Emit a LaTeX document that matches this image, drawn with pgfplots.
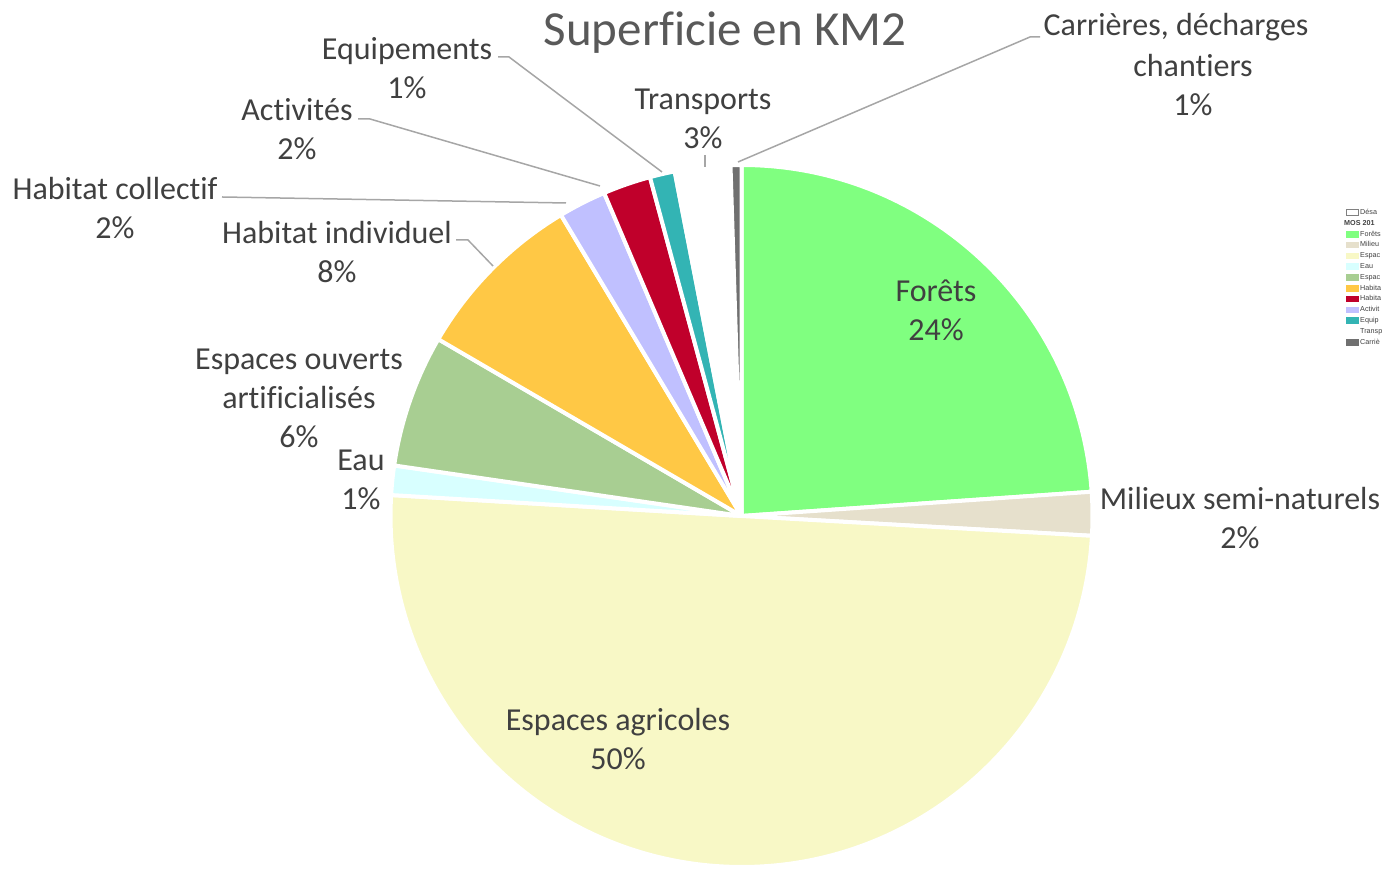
\documentclass[border=0pt]{standalone}
\usepackage{pgfplots}
\pgfplotsset{compat=1.18}
\usepackage{pgfplotstable}
\usepackage{fontspec}
\setmainfont{Carlito}[Ligatures={NoCommon}]
\newfontfamily\legfont{Liberation Sans}
\newcommand\nl{\kern0pt }% breaks the ti / fi ligatures

\definecolor{cFor}{HTML}{80FF80}
\definecolor{cMil}{HTML}{E6E0CC}
\definecolor{cAgr}{HTML}{F8F8C6}
\definecolor{cEau}{HTML}{D8FFFF}
\definecolor{cOuv}{HTML}{A8CE92}
\definecolor{cHin}{HTML}{FFC845}
\definecolor{cHco}{HTML}{C0C0FF}
\definecolor{cAct}{HTML}{C0002B}
\definecolor{cEqu}{HTML}{33B4B4}
\definecolor{cTra}{HTML}{FFFFFF}
\definecolor{cCar}{HTML}{707070}
\definecolor{txt}{HTML}{404040}
\definecolor{ttl}{HTML}{595959}
\definecolor{lead}{HTML}{A6A6A6}

% parts in percent, clockwise from 12 o'clock
\pgfplotstableread[col sep=comma]{
name,value,color
Forets,23.9,cFor
Milieux,2.0,cMil
Agricoles,50.05,cAgr
Eau,1.35,cEau
Ouverts,6.1,cOuv
HabInd,8.0,cHin
HabColl,2.2,cHco
Activites,2.2,cAct
Equipements,1.15,cEqu
Transports,2.55,cTra
Carrieres,0.5,cCar
}\piedata

\begin{document}
\begin{tikzpicture}
\useasboundingbox (0,0) rectangle (691.5pt,436pt);
\begin{axis}[
  at={(0,0)}, anchor=origin,
  x=0.5pt, y=0.5pt,
  xmin=0, xmax=1383, ymin=0, ymax=872,
  hide axis, clip=false,
  legend image code/.code={\draw[#1] (0pt,-1.4pt) rectangle (6pt,1.4pt);},
  legend style={at={(axis cs:1346,664)}, anchor=north west, draw=none, fill=none,
    inner sep=0pt, row sep=1.1pt,
    font=\fontsize{3.6}{4.2}\selectfont\legfont,
    nodes={inner sep=0.5pt, text height=2.6pt, text depth=0.7pt, text=txt}},
  legend cell align=left,
]
\pgfplotstablegetrowsof{\piedata}
\pgfmathtruncatemacro\N{\pgfplotsretval-1}
\def\cur{90}
\pgfplotsforeachungrouped \i in {0,...,\N}{%
  \pgfplotstablegetelem{\i}{value}\of\piedata \let\v\pgfplotsretval
  \pgfplotstablegetelem{\i}{color}\of\piedata \let\c\pgfplotsretval
  \pgfmathsetmacro\nxt{\cur-3.6*\v}%
  \edef\temp{\noexpand\filldraw[fill=\c, draw=white, line width=2pt, line join=round]
    (axis cs:741.5,356) -- ++(\cur:175.5pt) arc[start angle=\cur, end angle=\nxt, radius=175.5pt] -- cycle;}%
  \temp
  \let\cur\nxt
}

% legend, cut by the right edge of the page as in the original
\addlegendimage{draw=gray, fill=white}\addlegendentry{Désa}
\addlegendimage{empty legend}\addlegendentry{\hspace*{-8pt}\textbf{MOS 201}}
\addlegendimage{draw=cFor, fill=cFor}\addlegendentry{Forêts}
\addlegendimage{draw=cMil, fill=cMil}\addlegendentry{Milieu}
\addlegendimage{draw=cAgr, fill=cAgr}\addlegendentry{Espac}
\addlegendimage{draw=cEau, fill=cEau}\addlegendentry{Eau}
\addlegendimage{draw=cOuv, fill=cOuv}\addlegendentry{Espac}
\addlegendimage{draw=cHin, fill=cHin}\addlegendentry{Habita}
\addlegendimage{draw=cAct, fill=cAct}\addlegendentry{Habita}
\addlegendimage{draw=cHco, fill=cHco}\addlegendentry{Activit}
\addlegendimage{draw=cEqu, fill=cEqu}\addlegendentry{Equip}
\addlegendimage{draw=white, fill=white}\addlegendentry{Transp}
\addlegendimage{draw=cCar, fill=cCar}\addlegendentry{Carriè}

% leader lines
\draw[lead, line width=0.75pt] (axis cs:1040,835) -- (axis cs:1030,835) -- (axis cs:738,710);
\draw[lead, line width=0.75pt] (axis cs:705,717) -- (axis cs:705,705);
\draw[lead, line width=0.75pt] (axis cs:498,815) -- (axis cs:509,815) -- (axis cs:662,700);
\draw[lead, line width=0.75pt] (axis cs:358,753) -- (axis cs:370,753) -- (axis cs:600,686);
\draw[lead, line width=0.75pt] (axis cs:222,675) -- (axis cs:566,669);
\draw[lead, line width=0.75pt] (axis cs:456,632) -- (axis cs:468,632) -- (axis cs:493,606);

% title and labels
\node[text=ttl, font=\fontsize{24.5}{29}\selectfont, inner sep=0pt] at (axis cs:725,839) {Superf\nl icie en KM2};
\begin{scope}[every node/.style={text=txt, font=\fontsize{16}{19.5}\selectfont, align=center, inner sep=0pt}]
\node at (axis cs:1176,845) {Carrières, décharges};
\node at (axis cs:1193,786.5) {chant\nl iers\\1\%};
\node at (axis cs:703,753.5) {Transports\\3\%};
\node at (axis cs:407,803.5) {Equipements\\1\%};
\node at (axis cs:297,742.5) {Act\nl ivit\nl és\\2\%};
\node at (axis cs:115,664) {Habitat collect\nl if\\2\%};
\node at (axis cs:337,620) {Habitat individuel\\8\%};
\node at (axis cs:299,474) {Espaces ouverts\\art\nl if\nl icialisés\\6\%};
\node at (axis cs:361,392) {Eau\\1\%};
\node at (axis cs:936,562) {Forêts\\24\%};
\node at (axis cs:1240,354) {Milieux semi-naturels\\2\%};
\node at (axis cs:618,132.5) {Espaces agricoles\\50\%};
\end{scope}
\end{axis}
\end{tikzpicture}
\end{document}
